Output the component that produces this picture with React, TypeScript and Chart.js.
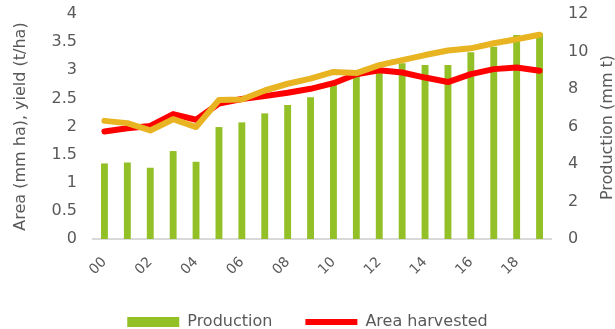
import React, { useEffect, useRef } from "react";
import { Chart, registerables } from "chart.js";

Chart.register(...registerables);

const years = ["00","01","02","03","04","05","06","07","08","09","10","11","12","13","14","15","16","17","18","19"];
const production = [4.03, 4.08, 3.8, 4.69, 4.12, 5.97, 6.22, 6.7, 7.15, 7.56, 8.21, 8.84, 9.1, 9.37, 9.28, 9.28, 9.96, 10.26, 10.88, 10.97];
const areaHarvested = [1.91, 1.97, 2.01, 2.22, 2.12, 2.41, 2.49, 2.54, 2.6, 2.67, 2.77, 2.93, 3.0, 2.96, 2.87, 2.79, 2.93, 3.02, 3.05, 2.99];
const yieldValues = [2.1, 2.06, 1.93, 2.13, 1.99, 2.47, 2.48, 2.64, 2.76, 2.85, 2.97, 2.95, 3.09, 3.18, 3.27, 3.35, 3.39, 3.48, 3.55, 3.63];

const leftTitle = "Area (mm ha), yield (t/ha)";
const rightTitle = "Production (mm t)";

const TEXT = "#595959";
const FONT = "'DejaVu Sans', sans-serif";

const layoutPlugin = {
  id: "layoutTweaks",
  beforeLayout(chart: any) {
    const leg = chart.legend;
    if (leg && !leg._patched) {
      const orig = leg.fit.bind(leg);
      leg.fit = function () {
        orig();
        this.height = 48;
      };
      leg._patched = true;
    }
  },
  afterDraw(chart: any) {
    const s = chart.scales.y1;
    const ctx = chart.ctx;
    ctx.save();
    ctx.fillStyle = TEXT;
    ctx.font = `16px ${FONT}`;
    ctx.textAlign = "center";
    ctx.textBaseline = "middle";
    const cx = s.right - 7;
    const cy = (chart.chartArea.top + chart.chartArea.bottom) / 2 + 1;
    ctx.translate(cx, cy);
    ctx.rotate(-Math.PI / 2);
    ctx.fillText(rightTitle, 0, 0);
    ctx.restore();
  },
};

const noPad = (s: any) => {
  s.paddingTop = 0;
  s.paddingBottom = 0;
};

export default function App() {
  const ref = useRef<HTMLCanvasElement | null>(null);
  useEffect(() => {
    if (!ref.current) return;
    const chart = new Chart(ref.current, {
      type: "bar",
      data: {
        labels: years,
        datasets: [
          {
            type: "bar",
            label: "Production",
            data: production,
            yAxisID: "y1",
            backgroundColor: "#92C026",
            borderWidth: 0,
            categoryPercentage: 1,
            barPercentage: 0.3,
            order: 3,
            pointStyle: "rect",
          } as any,
          {
            type: "line",
            label: "Area harvested",
            data: areaHarvested,
            yAxisID: "y",
            borderColor: "#FF0000",
            backgroundColor: "#FF0000",
            borderWidth: 6,
            borderCapStyle: "round",
            borderJoinStyle: "round",
            pointRadius: 0,
            tension: 0,
            order: 2,
            pointStyle: "line",
          } as any,
          {
            type: "line",
            label: "Yield",
            data: yieldValues,
            yAxisID: "y",
            borderColor: "#E8B422",
            backgroundColor: "#E8B422",
            borderWidth: 6,
            borderCapStyle: "round",
            borderJoinStyle: "round",
            pointRadius: 0,
            tension: 0,
            order: 1,
            pointStyle: "line",
          } as any,
        ],
      },
      options: {
        animation: false,
        responsive: false,
        maintainAspectRatio: false,
        layout: { padding: { top: 14, bottom: 0, left: 0, right: 0 } },
        plugins: {
          tooltip: { enabled: false },
          legend: {
            position: "bottom",
            labels: {
              filter: (item: any) => item.text !== "Yield",
              sort: (a: any, b: any) => a.datasetIndex - b.datasetIndex,
              usePointStyle: true,
              pointStyleWidth: 52,
              boxHeight: 10,
              padding: 33,
              color: TEXT,
              font: { family: FONT, size: 16 },
            },
          },
        },
        scales: {
          x: {
            grid: { display: false, drawTicks: false },
            border: { display: true, color: "#D9D9D9", width: 2 },
            ticks: {
              color: TEXT,
              font: { family: FONT, size: 14 },
              minRotation: 45,
              maxRotation: 45,
              autoSkip: false,
              padding: 15,
              callback: (_v: any, i: number) => (i % 2 === 0 ? years[i] : ""),
            },
            afterFit: (s: any) => {
              s.height = 42;
            },
          },
          y: {
            position: "left",
            min: 0,
            max: 4,
            grid: { display: false, drawTicks: false },
            border: { display: false },
            ticks: {
              stepSize: 0.5,
              color: TEXT,
              font: { family: FONT, size: 16 },
              padding: 16,
              callback: (v: any) => String(Number(v)),
            },
            title: {
              display: true,
              text: leftTitle,
              color: TEXT,
              font: { family: FONT, size: 16 },
              padding: { top: 11, bottom: 0 },
            },
            afterFit: (s: any) => {
              s.width = 93;
              noPad(s);
            },
          },
          y1: {
            position: "right",
            min: 0,
            max: 12,
            grid: { display: false, drawTicks: false },
            border: { display: false },
            ticks: {
              stepSize: 2,
              color: TEXT,
              font: { family: FONT, size: 16 },
              padding: 17,
              callback: (v: any) => String(Number(v)),
            },
            afterFit: (s: any) => {
              s.width = 64;
              noPad(s);
            },
          },
        },
      } as any,
      plugins: [layoutPlugin],
    });
    return () => chart.destroy();
  }, []);
  return (
    <div style={{ position: "fixed", left: 0, top: 0, width: 615, height: 329, background: "#fff" }}>
      <canvas ref={ref} width={615} height={329} style={{ display: "block" }} />
    </div>
  );
}
